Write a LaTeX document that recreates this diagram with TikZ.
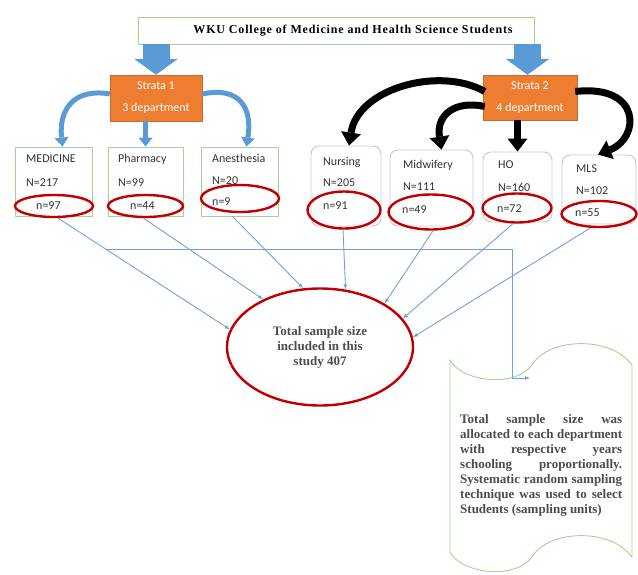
\documentclass[tikz,border=0pt]{standalone}
\usepackage{fontspec}
\setmainfont{Liberation Serif}
\newfontfamily\calib{Carlito}
\usetikzlibrary{arrows.meta,calc,shapes.geometric}
\definecolor{blueA}{HTML}{5B9BD5}
\definecolor{thinblue}{HTML}{6FA3D8}
\definecolor{orangeA}{HTML}{ED7D31}
\definecolor{greenB}{HTML}{A9D18E}
\definecolor{redE}{HTML}{C00000}
\definecolor{grayB}{HTML}{C8C8C8}
\begin{document}
\begin{tikzpicture}[x=1pt,y=-1pt,
  titlebox/.style={draw=greenB, line width=0.9pt, fill=white, inner sep=0pt,
    font=\bfseries\fontsize{12}{14}\selectfont\addfontfeatures{LetterSpace=7}},
  stratabox/.style={fill=orangeA, draw=orangeA!85!black, line width=0.5pt, text=white,
    align=center, font=\calib\fontsize{12}{22}\selectfont, inner sep=0pt},
  lbox/.style={draw=greenB, line width=0.9pt, inner sep=0pt},
  rbox/.style={draw=grayB, line width=0.9pt, rounded corners=8pt, inner sep=0pt},
  redell/.style={ellipse, draw=redE, line width=2.4pt, inner sep=0pt},
  lbl/.style={anchor=west, inner sep=0pt, font=\calib\fontsize{12}{14}\selectfont, text=black!80},
  blockarr/.style={draw=blueA, line width=27pt, -{Triangle[width=44pt,length=16pt,line width=0pt]}},
  bluecurve/.style={draw=blueA, line width=5pt, -{Triangle[width=14pt,length=9pt,line width=0pt]}},
  blackcurve/.style={draw=black, line width=7pt, -{Triangle[width=20pt,length=13pt,line width=0pt]}},
  thin/.style={draw=thinblue, line width=0.9pt, -{Latex[length=5pt,width=4pt]}}
]
\path[use as bounding box] (0,0) rectangle (638,574);

% title
\node[titlebox, minimum width=396pt, minimum height=27pt] (title) at (336,30.5)
  {\hspace*{34pt}WKU College of Medicine and Health Science Students};

% strata
\node[stratabox, minimum width=92pt, minimum height=46pt] (s1) at (156,98) {Strata 1\\3 department};
\node[stratabox, minimum width=94pt, minimum height=45pt] (s2) at (530,97.5) {Strata 2\\4 department};

% block arrows
\draw[blockarr] (s1.north |- title.south) -- (s1.north);
\draw[blockarr] ($(s2.north |- title.south)+(-2.5,0)$) -- ($(s2.north)+(-2.5,0)$);

% left department boxes
\node[lbox, minimum width=77pt, minimum height=69pt] (med) at (53.5,181.5) {};
\node[lbox, minimum width=75pt, minimum height=69pt] (pha) at (145.5,181.5) {};
\node[lbox, minimum width=77pt, minimum height=69pt] (ane) at (239.5,181.5) {};

% right department boxes
\node[rbox, minimum width=70pt, minimum height=80pt] (nur) at (346,186) {};
\node[rbox, minimum width=83pt, minimum height=76pt] (mid) at (431.5,188) {};
\node[rbox, minimum width=69pt, minimum height=70pt] (ho) at (517.5,187) {};
\node[rbox, minimum width=74pt, minimum height=69pt] (mls) at (599,189.5) {};

% red ellipses
\node[redell, minimum width=78pt, minimum height=22pt] (emed) at (54,206) {};
\node[redell, minimum width=75pt, minimum height=22pt] (epha) at (145.5,206) {};
\node[redell, minimum width=78pt, minimum height=27pt] (eane) at (240,198.5) {};
\node[redell, minimum width=73pt, minimum height=37pt] (enur) at (344,210) {};
\node[redell, minimum width=85pt, minimum height=35pt] (emid) at (431,212) {};
\node[redell, minimum width=69pt, minimum height=29pt] (eho) at (517,208) {};
\node[redell, minimum width=75pt, minimum height=26pt] (emls) at (599,214) {};

% labels
\node[lbl] (t1a) at (26,159) {MEDICINE};
\node[lbl] (t1b) at (26,183) {N=217};
\node[lbl] (t1c) at (36,206) {n=97};
\node[lbl] (t2a) at (118,159) {Pharmacy};
\node[lbl] (t2b) at (118,183) {N=99};
\node[lbl] (t2c) at (130,206) {n=44};
\node[lbl] (t3a) at (212,158) {Anesthesia};
\node[lbl] (t3b) at (212,181) {N=20};
\node[lbl] (t3c) at (212,202) {n=9};
\node[lbl] (t4a) at (323,162) {Nursing};
\node[lbl] (t4b) at (323,183) {N=205};
\node[lbl] (t4c) at (323,206) {n=91};
\node[lbl] (t5a) at (403,165) {Midwifery};
\node[lbl] (t5b) at (403,187) {N=111};
\node[lbl] (t5c) at (402,210) {n=49};
\node[lbl] (t6a) at (498,165) {HO};
\node[lbl] (t6b) at (498,187) {N=160};
\node[lbl] (t6c) at (497,209) {n=72};
\node[lbl] (t7a) at (576,169) {MLS};
\node[lbl] (t7b) at (576,191) {N=102};
\node[lbl] (t7c) at (575,213) {n=55};

% strata 1 blue arrows
\draw[bluecurve] ($(s1.west)+(0,-4)$) .. controls +(-35,-6) and +(-4,-38) .. ($(med.north)+(9,0)$);
\draw[bluecurve] (s1.south -| pha.north) -- (pha.north);
\draw[bluecurve] ($(s1.east)+(0,-4)$) .. controls +(38,-8) and +(6,-38) .. ($(ane.north)+(7,0)$);

% strata 2 black arrows
\draw[blackcurve] ($(s2.west)+(2,-6)$) .. controls (440,66) and (358,88) .. ($(nur.north)+(3,0)$);
\draw[blackcurve] ($(s2.west)+(2,9)$) .. controls (455,100) and (436,115) .. ($(mid.north)+(10,0)$);
\draw[blackcurve] (s2.south -| ho.north) -- (ho.north);
\draw[blackcurve] ($(s2.east)+(-2,-6)$) .. controls (642,84) and (640,138) .. ($(mls.north)+(-1,0)$);

% total
\node[redell, minimum width=186pt, minimum height=117pt, align=center,
  font=\bfseries\fontsize{13}{15}\selectfont, text=black!70] (tot) at (320,347)
  {Total sample size\\included in this\\study 407};

% thin connectors
\draw[thin] ($(emed.south)+(4,0)$) -- (tot.169) coordinate[pos=0.283] (br);
\draw[thin] ($(epha.south)+(-2,0)$) -- (tot.140);
\draw[thin] ($(ane.south)+(-7,0)$) -- (tot.106);
\draw[thin] ($(enur.south)+(-1,0)$) -- (tot.66);
\draw[thin] ($(emid.south)+(2,0)$) -- (tot.34);
\draw[thin] ($(eho.south)+(-4,0)$) -- (tot.19);
\draw[thin] ($(emls.south)+(-9,0)$) -- (tot.6);

% scroll
\draw[greenB, line width=0.9pt] (450,360) .. controls (462,382) and (515,388) .. (532,365)
  .. controls (548,338) and (610,335) .. (632,365) -- (632,557)
  .. controls (610,527) and (548,530) .. (532,557)
  .. controls (515,580) and (462,574) .. (450,552) -- cycle;
\coordinate (turn) at (512,378);
\coordinate (scin) at (530,378);
\draw[thin] (br) -| (turn) -- (scin);

\node[anchor=north west, text width=162pt, align=justify, inner sep=0pt,
  font=\bfseries\fontsize{13}{15}\selectfont, text=black!70] (sctext) at (460,414)
  {Total sample size was\linebreak allocated to each department\linebreak with respective years\linebreak schooling proportionally.\linebreak Systematic random sampling\linebreak technique was used to select\linebreak Students (sampling units)};
\end{tikzpicture}
\end{document}
